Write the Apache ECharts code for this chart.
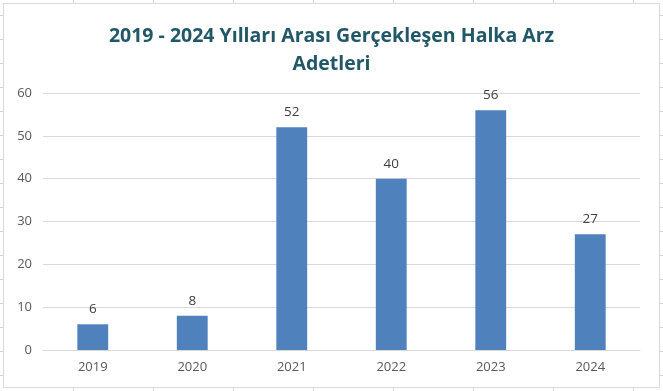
<!DOCTYPE html>
<html>
<head>
<meta charset="utf-8">
<script src="https://cdn.jsdelivr.net/npm/echarts@6/dist/echarts.min.js"></script>
<style>
html,body{margin:0;padding:0;width:663px;height:391px;overflow:hidden;}
body{
  background-color:#ffffff;
  background-image:
    repeating-linear-gradient(to right, transparent 0px, transparent 73px, #d4d4d4 73px, #d4d4d4 74px, transparent 74px, transparent 80px),
    repeating-linear-gradient(to bottom, transparent 0px, transparent 15px, #d4d4d4 15px, #d4d4d4 16px, transparent 16px, transparent 24px);
  background-position: 0 0, 0 0;
}
#wrap{position:absolute;left:3px;top:3px;width:655px;height:383px;border:1px solid #d9d9d9;background:#fff;}
#chart{width:655px;height:383px;}
</style>
</head>
<body>
<div id="wrap"><div id="chart"></div></div>
<script>
const categories = ['2019', '2020', '2021', '2022', '2023', '2024'];
const values = [6, 8, 52, 40, 56, 27];
const yTicks = [0, 10, 20, 30, 40, 50, 60];

const chart = echarts.init(document.getElementById('chart'), null, {renderer: 'canvas'});
chart.setOption({
  animation: false,
  backgroundColor: '#ffffff',
  title: {
    text: '2019 - 2024 Yılları Arası Gerçekleşen Halka Arz\nAdetleri',
    left: 'center',
    top: 13,
    textStyle: {
      fontFamily: 'Open Sans',
      fontWeight: 'bold',
      fontSize: 19.5,
      lineHeight: 28,
      color: '#215868'
    }
  },
  grid: {left: 39, right: 19, top: 89, bottom: 37, containLabel: false},
  xAxis: {
    type: 'category',
    data: categories,
    axisLine: {show: true, lineStyle: {color: '#d9d9d9', width: 1}},
    axisTick: {show: false},
    axisLabel: {color: '#595959', fontSize: 13, fontFamily: 'Open Sans', margin: 11}
  },
  yAxis: {
    type: 'value',
    min: yTicks[0],
    max: yTicks[yTicks.length - 1],
    interval: 10,
    axisLine: {show: false},
    axisTick: {show: false},
    splitLine: {lineStyle: {color: '#d9d9d9', width: 1}},
    axisLabel: {color: '#595959', fontSize: 13, fontFamily: 'Open Sans', margin: 11}
  },
  series: [{
    type: 'bar',
    data: values,
    barWidth: '31%',
    itemStyle: {color: '#4f81bd'},
    label: {
      show: true,
      position: 'top',
      distance: 8,
      color: '#404040',
      fontSize: 13.5,
      fontFamily: 'Open Sans'
    }
  }]
});
</script>
</body>
</html>
